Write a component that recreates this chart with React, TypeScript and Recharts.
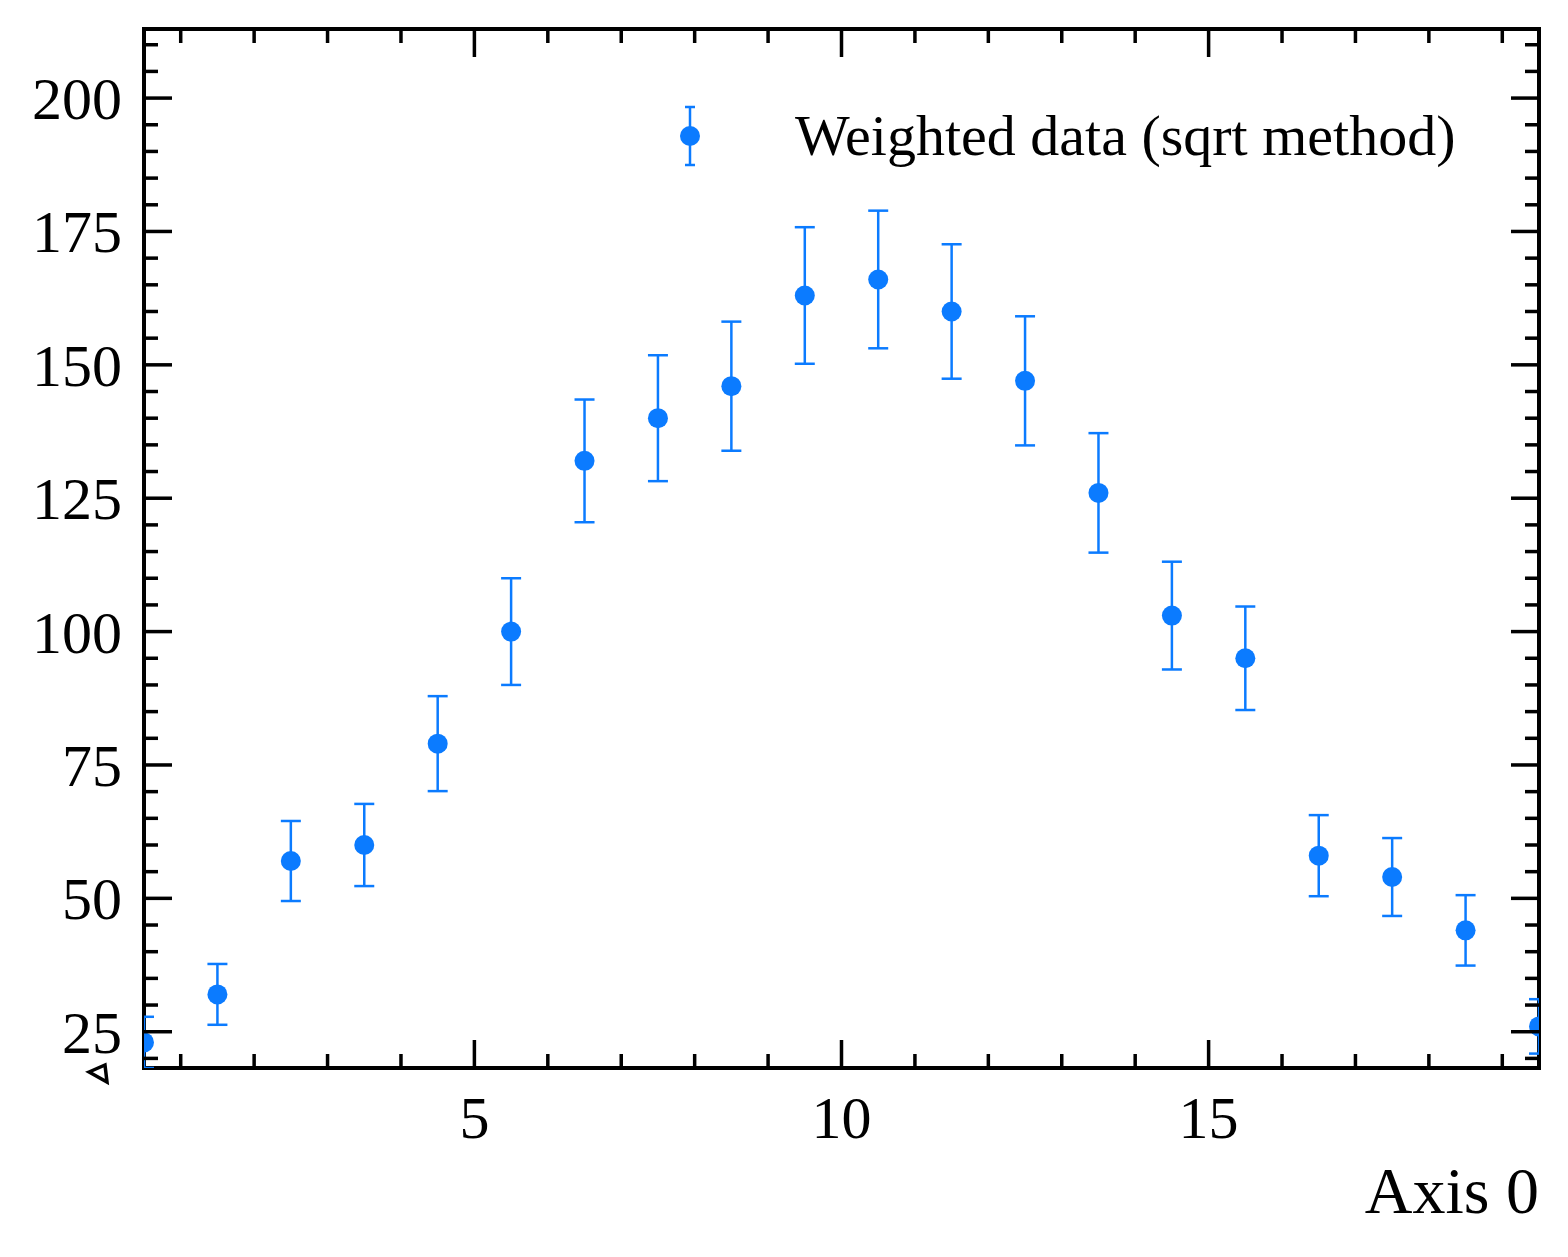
import { Customized, ErrorBar, Legend, ReferenceArea, Scatter, ScatterChart, XAxis, YAxis } from "recharts"

// bin centres and weighted counts
const binCenters = [0.5, 1.5, 2.5, 3.5, 4.5, 5.5, 6.5, 7.5, 8.5, 9.5, 10.5, 11.5, 12.5, 13.5, 14.5, 15.5, 16.5, 17.5, 18.5, 19.5]
const counts = [23, 32, 57, 60, 79, 100, 132, 140, 146, 163, 166, 160, 147, 126, 103, 95, 58, 54, 44, 26]
const errors = [4.8, 5.7, 7.5, 7.7, 8.9, 10, 11.5, 11.8, 12.1, 12.8, 12.9, 12.6, 12.1, 11.2, 10.1, 9.7, 7.6, 7.3, 6.6, 5.1]

const xMajor = [5, 10, 15]
const xTicks = [1, 2, 3, 4, 5, 6, 7, 8, 9, 10, 11, 12, 13, 14, 15, 16, 17, 18, 19]
const yMajor = [25, 50, 75, 100, 125, 150, 175, 200]
const yTicks = [20, 25, 30, 35, 40, 45, 50, 55, 60, 65, 70, 75, 80, 85, 90, 95, 100, 105, 110, 115, 120, 125, 130, 135, 140, 145, 150, 155, 160, 165, 170, 175, 180, 185, 190, 195, 200, 205, 210]

const X_DOMAIN: [number, number] = [0.5, 19.5]
const Y_DOMAIN: [number, number] = [18.2, 212.95]

const BLUE = "#0b7bff"
const FONT = "'Liberation Serif', 'Times New Roman', serif"

const W = 1568
const H = 1257
const M = { top: 29, right: 29, left: 44, bottom: 129 }
const Y_AXIS_W = 100
const X_AXIS_H = 60
const PLOT_TOP = M.top
const PLOT_LEFT = M.left + Y_AXIS_W
const PLOT_RIGHT = W - M.right
const PLOT_BOTTOM = H - M.bottom - X_AXIS_H

const MAJOR_LEN = 28
const MINOR_LEN = 14
const TICK_W = 3.5

const data = binCenters.map((x, i) => ({ x, y: counts[i], err: errors[i] }))

function XTick(props: any) {
  const { x, payload } = props
  const major = xMajor.includes(payload.value)
  const len = major ? MAJOR_LEN : MINOR_LEN
  return (
    <g>
      <line x1={x} y1={PLOT_BOTTOM} x2={x} y2={PLOT_BOTTOM - len} stroke="#000" strokeWidth={TICK_W} />
      <line x1={x} y1={PLOT_TOP} x2={x} y2={PLOT_TOP + len} stroke="#000" strokeWidth={TICK_W} />
      {major && (
        <text x={x} y={PLOT_BOTTOM + 70} textAnchor="middle" fontSize={60} fontFamily={FONT} fill="#000">
          {payload.value}
        </text>
      )}
    </g>
  )
}

function YTick(props: any) {
  const { y, payload } = props
  const major = yMajor.includes(payload.value)
  const len = major ? MAJOR_LEN : MINOR_LEN
  return (
    <g>
      <line x1={PLOT_LEFT} y1={y} x2={PLOT_LEFT + len} y2={y} stroke="#000" strokeWidth={TICK_W} />
      <line x1={PLOT_RIGHT} y1={y} x2={PLOT_RIGHT - len} y2={y} stroke="#000" strokeWidth={TICK_W} />
      {major && (
        <text x={PLOT_LEFT - 22} y={y + 21} textAnchor="end" fontSize={60} fontFamily={FONT} fill="#000">
          {payload.value}
        </text>
      )}
    </g>
  )
}

function Dot(props: any) {
  const { cx, cy } = props
  return <circle cx={cx} cy={cy} r={10} fill={BLUE} />
}

function LegendBox() {
  return (
    <svg width={880} height={90} style={{ overflow: "visible" }}>
      <line x1={50} y1={17} x2={50} y2={75} stroke={BLUE} strokeWidth={2.5} />
      <line x1={45} y1={17} x2={55} y2={17} stroke={BLUE} strokeWidth={2.5} />
      <line x1={45} y1={75} x2={55} y2={75} stroke={BLUE} strokeWidth={2.5} />
      <circle cx={50} cy={46} r={10} fill={BLUE} />
      <text x={155} y={65} fontSize={58} fontFamily={FONT} fill="#000">
        Weighted data (sqrt method)
      </text>
    </svg>
  )
}

function XLabel(props: any) {
  const vb = props.viewBox
  return (
    <text x={vb.x + vb.width} y={vb.y + 145} textAnchor="end" fontSize={66} fontFamily={FONT} fill="#000">
      Axis 0
    </text>
  )
}

function YLabel() {
  return (
    <polygon points="89,1072 105,1065 107,1082" fill="none" stroke="#000" strokeWidth={3.5} strokeLinejoin="miter" />
  )
}

function PlotClip() {
  return (
    <defs>
      <clipPath id="plot-clip">
        <rect x={PLOT_LEFT} y={PLOT_TOP} width={PLOT_RIGHT - PLOT_LEFT} height={PLOT_BOTTOM - PLOT_TOP} />
      </clipPath>
    </defs>
  )
}

export default function App() {
  return (
    <div style={{ position: "absolute", left: 0, top: 0, width: W, height: H, background: "#fff" }}>
      <ScatterChart width={W} height={H} margin={M}>
        <Customized component={<PlotClip />} />
        <XAxis
          type="number"
          dataKey="x"
          domain={X_DOMAIN}
          ticks={xTicks}
          interval={0}
          allowDataOverflow
          height={X_AXIS_H}
          axisLine={false}
          tickLine={false}
          tickSize={0}
          tickMargin={0}
          tick={<XTick />}
          label={<XLabel />}
        />
        <YAxis
          type="number"
          dataKey="y"
          domain={Y_DOMAIN}
          ticks={yTicks}
          interval={0}
          allowDataOverflow
          width={Y_AXIS_W}
          axisLine={false}
          tickLine={false}
          tickSize={0}
          tickMargin={0}
          tick={<YTick />}
          label={<YLabel />}
        />
        <Scatter data={data} shape={<Dot />} fill={BLUE} isAnimationActive={false}>
          <ErrorBar
            dataKey="err"
            direction="y"
            width={10}
            stroke={BLUE}
            strokeWidth={2.5}
            clipPath="url(#plot-clip)"
            isAnimationActive={false}
          />
        </Scatter>
        <ReferenceArea
          x1={X_DOMAIN[0]}
          x2={X_DOMAIN[1]}
          y1={Y_DOMAIN[0]}
          y2={Y_DOMAIN[1]}
          fill="none"
          stroke="#000"
          strokeWidth={4}
          ifOverflow="visible"
        />
        <Legend
          layout="horizontal"
          align="center"
          verticalAlign="middle"
          wrapperStyle={{ position: "absolute", left: 640, top: 90, width: 880, height: 90 }}
          content={<LegendBox />}
        />
      </ScatterChart>
    </div>
  )
}
